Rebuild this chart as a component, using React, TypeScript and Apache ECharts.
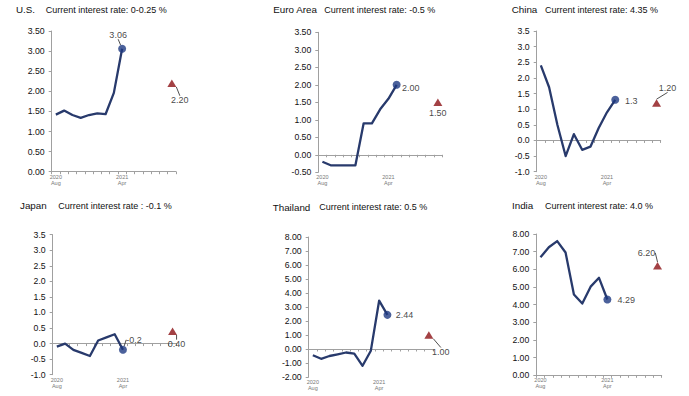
import React, { useEffect, useRef } from 'react';
import * as echarts from 'echarts';

// ---------- data ----------
const categories = ['2020\nAug', 'Sep', 'Oct', 'Nov', 'Dec', 'Jan', 'Feb', 'Mar', '2021\nApr', 'May', 'Jun', 'Jul', 'Aug', 'Sep', 'Oct'];
const countries = ['U.S.', 'Euro Area', 'China', 'Japan', 'Thailand', 'India'];
const rateTexts = [
  'Current interest rate: 0-0.25 %',
  'Current interest rate: -0.5 %',
  'Current interest rate: 4.35 %',
  'Current interest rate : -0.1 %',
  'Current interest rate: 0.5 %',
  'Current interest rate: 4.0 %',
];
const usValues = [1.42, 1.52, 1.41, 1.34, 1.41, 1.45, 1.43, 1.96, 3.06];
const euroValues = [-0.2, -0.3, -0.3, -0.3, -0.3, 0.9, 0.9, 1.3, 1.6, 2.0];
const chinaValues = [2.4, 1.7, 0.5, -0.5, 0.2, -0.3, -0.2, 0.4, 0.9, 1.3];
const japanValues = [-0.1, 0.0, -0.2, -0.3, -0.4, 0.1, 0.2, 0.3, -0.2];
const thailandValues = [-0.45, -0.7, -0.5, -0.38, -0.25, -0.33, -1.2, -0.12, 3.45, 2.44];
const indiaValues = [6.68, 7.25, 7.6, 6.95, 4.58, 4.06, 5.02, 5.52, 4.29];
const seriesValues = [usValues, euroValues, chinaValues, japanValues, thailandValues, indiaValues];
const forecastValues = [2.2, 1.5, 1.2, 0.4, 1.0, 6.2];
const forecastIndex = 14;
const yMin = [0, -0.5, -1, -1, -2, 0];
const yMax = [3.5, 3.5, 3.5, 3.5, 8, 8];
const yStep = [0.5, 0.5, 0.5, 0.5, 1, 1];
const yDecimals = [2, 2, 1, 1, 2, 2];
const lastDecimals = [2, 2, 1, 1, 2, 2];
const forecastDecimals = 2;

// ---------- layout / style ----------
const FONT = 'Liberation Sans, Arial, sans-serif';
const grids = [
  { left: 51.7, top: 31, width: 124.3, height: 140.7 },
  { left: 318.3, top: 32.3, width: 123.7, height: 140 },
  { left: 536.7, top: 31, width: 124, height: 140.7 },
  { left: 52.7, top: 234.7, width: 124, height: 140 },
  { left: 308.7, top: 237, width: 124.3, height: 140 },
  { left: 536.3, top: 234, width: 125.4, height: 141.3 },
];
const titlePos = [
  { name: 16, rate: 45.7, y: 10 },
  { name: 273.3, rate: 324.3, y: 10 },
  { name: 511.7, rate: 545, y: 10 },
  { name: 20, rate: 58.3, y: 206.3 },
  { name: 272.7, rate: 319.3, y: 207.5 },
  { name: 512, rate: 545, y: 206 },
];
// label offsets [dx, dy, leaderLine]
const lastLabel: [number, number, boolean][] = [
  [-4, -14, true],
  [14, 3, false],
  [16, 1, false],
  [11, -10, true],
  [17, 0, false],
  [19, 0, false],
];
const foreLabel: [number, number, boolean][] = [
  [8, 17, true],
  [0, 11, false],
  [11, -15, true],
  [4, 13, true],
  [12, 17, true],
  [-11, -13, true],
];

const LINE_COLOR = '#283a6c';
const DOT_COLOR = '#1e3a82';
const TRI_COLOR = '#8c1215';
const AXIS_COLOR = '#a0a0a0';

function layoutAt(dx: number, dy: number) {
  return (p: any) => ({
    x: p.rect.x + p.rect.width / 2 + dx,
    y: p.rect.y + p.rect.height / 2 + dy,
    align: 'center',
    verticalAlign: 'middle',
  });
}

function buildOption() {
  const title: any[] = [];
  const grid: any[] = [];
  const xAxis: any[] = [];
  const yAxis: any[] = [];
  const series: any[] = [];

  countries.forEach((c, i) => {
    const tp = titlePos[i];
    title.push({ text: c, left: tp.name, top: tp.y - 5.5, padding: 0, textStyle: { fontSize: 9.8, fontWeight: 'normal', color: '#111', fontFamily: FONT } });
    title.push({ text: rateTexts[i], left: tp.rate, top: tp.y - 5, padding: 0, textStyle: { fontSize: 9, fontWeight: 'normal', color: '#111', fontFamily: FONT } });
    grid.push({ ...grids[i], containLabel: false });

    const hasNeg = yMin[i] < 0;
    const labelsOnZero = i === 2; // China: labels sit on the zero line
    const xLabel = {
      show: true,
      interval: (idx: number) => idx === 0 || idx === 8,
      fontSize: 5.5,
      lineHeight: 6,
      color: '#777',
      fontFamily: FONT,
      margin: 2,
    };
    const zeroAxisIndex = xAxis.length;
    xAxis.push({
      type: 'category',
      gridIndex: i,
      data: categories,
      boundaryGap: true,
      position: 'bottom',
      axisLine: { show: true, onZero: true, lineStyle: { color: AXIS_COLOR, width: 1 } },
      axisTick: { show: true, length: 2.5, interval: 0, lineStyle: { color: AXIS_COLOR } },
      axisLabel: hasNeg && !labelsOnZero ? { show: false } : xLabel,
      splitLine: { show: false },
    });
    if (hasNeg && !labelsOnZero) {
      xAxis.push({
        type: 'category',
        gridIndex: i,
        data: categories,
        boundaryGap: true,
        position: 'bottom',
        axisLine: { show: false, onZero: false },
        axisTick: { show: false },
        axisLabel: xLabel,
        splitLine: { show: false },
      });
    }
    yAxis.push({
      type: 'value',
      gridIndex: i,
      min: yMin[i],
      max: yMax[i],
      interval: yStep[i],
      axisLine: { show: true, lineStyle: { color: AXIS_COLOR, width: 1 } },
      axisTick: { show: true, length: 3, lineStyle: { color: AXIS_COLOR } },
      axisLabel: { fontSize: 8.7, color: '#111', margin: 7, fontFamily: FONT, formatter: (v: number) => v.toFixed(yDecimals[i]) },
      splitLine: { show: false },
    });

    const vals = seriesValues[i];
    const lastIdx = vals.length - 1;
    series.push({
      type: 'line',
      xAxisIndex: zeroAxisIndex,
      yAxisIndex: i,
      data: vals,
      symbol: 'none',
      lineStyle: { color: LINE_COLOR, width: 2.3, join: 'round' },
      silent: true,
      z: 2,
    });
    const dataLabel = (dec: number) => ({
      show: true,
      position: 'right',
      color: '#111',
      fontSize: 9,
      fontFamily: FONT,
      textBorderWidth: 0,
      formatter: (p: any) => Number(p.value[1]).toFixed(dec),
    });
    const [ldx, ldy, lline] = lastLabel[i];
    series.push({
      type: 'scatter',
      xAxisIndex: zeroAxisIndex,
      yAxisIndex: i,
      data: [[lastIdx, vals[lastIdx]]],
      symbol: 'circle',
      symbolSize: 8,
      itemStyle: { color: DOT_COLOR },
      silent: true,
      z: 3,
      label: dataLabel(lastDecimals[i]),
      labelLayout: layoutAt(ldx, ldy),
      labelLine: { show: lline, lineStyle: { color: '#222', width: 0.8 } },
    });
    const [fdx, fdy, fline] = foreLabel[i];
    series.push({
      type: 'scatter',
      xAxisIndex: zeroAxisIndex,
      yAxisIndex: i,
      data: [[forecastIndex, forecastValues[i]]],
      symbol: 'triangle',
      symbolSize: [9, 7.5],
      itemStyle: { color: TRI_COLOR },
      silent: true,
      z: 3,
      label: dataLabel(forecastDecimals),
      labelLayout: layoutAt(fdx, fdy),
      labelLine: { show: fline, lineStyle: { color: '#222', width: 0.8 } },
    });
  });

  return {
    animation: false,
    backgroundColor: '#ffffff',
    title,
    grid,
    xAxis,
    yAxis,
    series,
  };
}

export default function App() {
  const ref = useRef<HTMLDivElement>(null);
  useEffect(() => {
    document.body.style.margin = '0';
    if (!ref.current) return;
    const chart = echarts.init(ref.current, undefined, { renderer: 'svg' });
    chart.setOption(buildOption() as any);
    return () => chart.dispose();
  }, []);
  return <div ref={ref} style={{ position: 'absolute', left: 0, top: 0, width: 689, height: 396 }} />;
}
